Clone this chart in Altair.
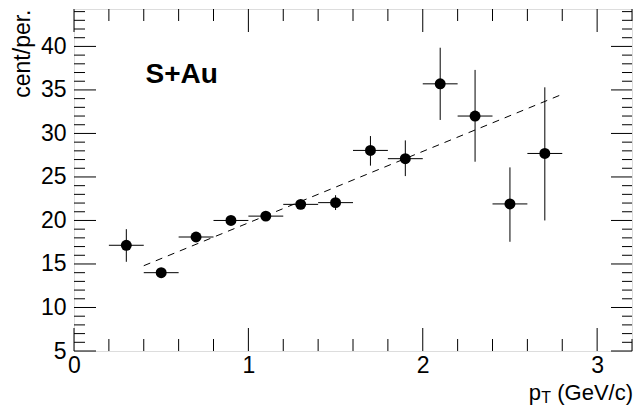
import altair as alt
import pandas as pd

# ---- data ----
pt = [0.3, 0.5, 0.7, 0.9, 1.1, 1.3, 1.5, 1.7, 1.9, 2.1, 2.3, 2.5, 2.7]
ratio = [17.15, 14.0, 18.1, 20.0, 20.5, 21.85, 22.05, 28.05, 27.1, 35.7, 32.0, 21.9, 27.7]
err_lo = [15.25, 13.7, 17.8, 19.7, 20.2, 21.3, 21.2, 26.3, 25.1, 31.55, 26.75, 17.55, 20.0]
err_hi = [19.0, 14.3, 18.4, 20.3, 20.8, 22.4, 22.9, 29.7, 29.2, 39.85, 37.3, 26.1, 35.3]
x_halfwidth = [0.1] * len(pt)

fit_x = [0.4, 2.8]
fit_y = [14.8, 34.5]

label_text = ["S+Au"]
label_x = [0.41]
label_y = [35.8]

x_major = [0, 1, 2, 3]
x_minor = [0.2, 0.4, 0.6, 0.8, 1.2, 1.4, 1.6, 1.8, 2.2, 2.4, 2.6, 2.8, 3.2]
y_major = [5, 10, 15, 20, 25, 30, 35, 40]
y_minor = [v for v in range(6, 45) if v % 5 != 0]

X_DOMAIN = [0, 3.2]
Y_DOMAIN = [5, 44.3]

W, H = 558, 342
FONT = "Liberation Sans"

df = pd.DataFrame({
    "pt": pt, "ratio": ratio, "lo": err_lo, "hi": err_hi,
    "xlo": [p - h for p, h in zip(pt, x_halfwidth)],
    "xhi": [p + h for p, h in zip(pt, x_halfwidth)],
})
fit_df = pd.DataFrame({"x": fit_x, "y": fit_y})
lab_df = pd.DataFrame({"t": label_text, "x": label_x, "y": label_y})

xs = alt.Scale(domain=X_DOMAIN, nice=False, zero=False)
ys = alt.Scale(domain=Y_DOMAIN, nice=False, zero=False)
xaxis = alt.Axis(values=x_major, ticks=False, tickSize=0, domain=False, grid=False,
                 labelFontSize=23, labelFont=FONT, labelColor="black", labelPadding=3,
                 labelFlush=False, labelOverlap=False, title=None, format="d")
yaxis = alt.Axis(values=y_major, ticks=False, tickSize=0, domain=False, grid=False,
                 labelFontSize=23, labelFont=FONT, labelColor="black", labelPadding=8,
                 labelOverlap=False, format="d",
                 title="cent/per.", titleFont=FONT, titleFontSize=23, titleFontWeight="normal",
                 titleColor="black", titleAngle=270, titleAlign="right",
                 titleBaseline="alphabetic", titleX=-45, titleY=0)

X = lambda f: alt.X(f, type="quantitative", scale=xs, axis=xaxis)
Y = lambda f: alt.Y(f, type="quantitative", scale=ys, axis=yaxis)

xerr = alt.Chart(df).mark_rule(color="black", strokeWidth=1).encode(
    x=X("xlo"), x2="xhi", y=Y("ratio"))
yerr = alt.Chart(df).mark_rule(color="black", strokeWidth=1).encode(
    x=X("pt"), y=Y("lo"), y2="hi")
pts = alt.Chart(df).mark_circle(color="black", opacity=1, size=120).encode(
    x=X("pt"), y=Y("ratio"))
fit = alt.Chart(fit_df).mark_line(color="black", strokeWidth=1, strokeDash=[7, 6]).encode(
    x=X("x"), y=Y("y"))
lab = alt.Chart(lab_df).mark_text(font=FONT, fontSize=28, fontWeight="bold", color="black",
                                  align="left", baseline="alphabetic").encode(
    x=X("x"), y=Y("y"), text="t:N")

ymaj_df = pd.DataFrame({"v": y_major})
ymin_df = pd.DataFrame({"v": y_minor})
xmaj_df = pd.DataFrame({"v": x_major})
xmin_df = pd.DataFrame({"v": x_minor})

def yticks(d, x0, x1):
    return alt.Chart(d).mark_rule(color="black", strokeWidth=1).encode(
        y=Y("v"), x=alt.value(x0), x2=alt.value(x1))

def xticks(d, y0, y1):
    return alt.Chart(d).mark_rule(color="black", strokeWidth=1).encode(
        x=X("v"), y=alt.value(y0), y2=alt.value(y1))

ticks = [
    yticks(ymaj_df, 0, 22), yticks(ymin_df, 0, 11),
    yticks(ymaj_df, W - 21, W), yticks(ymin_df, W - 10, W),
    xticks(xmaj_df, H - 23, H), xticks(xmin_df, H - 12, H),
    xticks(xmaj_df, 0, 23), xticks(xmin_df, 0, 12),
]

one = pd.DataFrame({"a": [0]})
def title_piece(txt, size, x, y):
    return alt.Chart(one).mark_text(text=txt, font=FONT, fontSize=size, color="black",
                                    align="right", baseline="alphabetic").encode(
        x=alt.value(x), y=alt.value(y))

xt = [
    title_piece("(GeV/c)", 22, W + 1, H + 49),
    title_piece("T", 16, W - 81, H + 52),
    title_piece("p", 22, W - 91, H + 49),
]

chart = alt.layer(*ticks, fit, xerr, yerr, pts, lab, *xt).properties(
    width=W, height=H,
    autosize=alt.AutoSizeParams(type="none"),
    padding={"left": 66, "top": 1, "right": 2, "bottom": 54},
).configure_view(stroke="black", strokeWidth=1).configure(background="white")

chart.save("out.html", embed_options={"renderer": "svg", "actions": False})
